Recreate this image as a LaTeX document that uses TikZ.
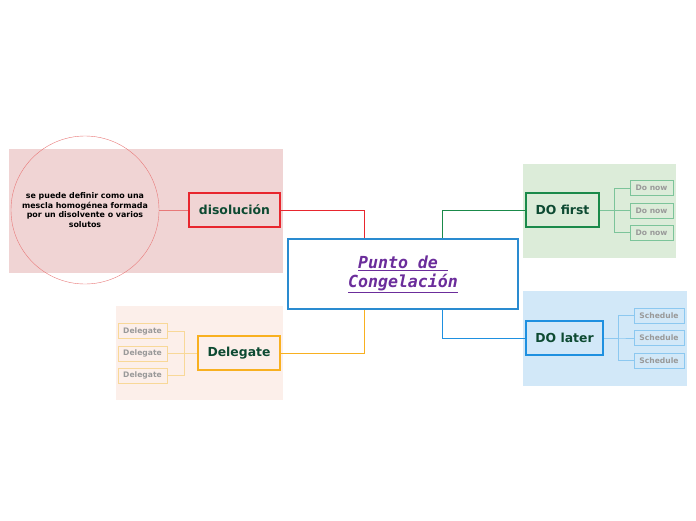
\documentclass[tikz,border=0pt]{standalone}
\usepackage{fontspec}
\setmainfont{DejaVu Sans}
\newfontfamily\titlefont{DejaVu Sans Mono}
\definecolor{mainblue}{HTML}{2A8BD0}
\definecolor{titlepurple}{HTML}{6B2D9B}
\definecolor{darkgreen}{HTML}{0D4A32}
\definecolor{redline}{HTML}{E8262E}
\definecolor{redsoft}{HTML}{E87878}
\definecolor{redbg}{HTML}{F0D4D4}
\definecolor{greenline}{HTML}{1A8A4A}
\definecolor{greensoft}{HTML}{7CC49A}
\definecolor{greenbg}{HTML}{DCECD9}
\definecolor{blueline}{HTML}{1E90E0}
\definecolor{bluesoft}{HTML}{8CC8F0}
\definecolor{bluebg}{HTML}{D2E8F8}
\definecolor{orangeline}{HTML}{F8B020}
\definecolor{orangesoft}{HTML}{F8D898}
\definecolor{orangebg}{HTML}{FCEFEA}
\begin{document}
\begin{tikzpicture}[x=1pt, y=-1pt,
  topic/.style={draw, line width=2pt, minimum height=34pt, inner sep=0pt,
    font=\fontsize{12.4}{14}\selectfont\bfseries, text=darkgreen},
  leaf/.style={draw, line width=0.8pt, minimum height=15pt, inner sep=0pt,
    font=\fontsize{7.6}{9}\selectfont\bfseries, text=black!40},
  link/.style={line width=1pt}
]
\useasboundingbox (0,0) rectangle (696,520);
% background regions
\fill[redbg] (9,149) rectangle (283,273);
\fill[greenbg] (523,164) rectangle (676,258);
\fill[bluebg] (523,291) rectangle (687,386);
\fill[orangebg] (116,306) rectangle (283,400);
% central topic
\node[draw=mainblue, line width=1.8pt, fill=white, minimum width=230pt,
  minimum height=70pt, align=center, text=titlepurple,
  font=\titlefont\fontsize{16.6}{19}\selectfont\bfseries\itshape]
  (main) at (403,274) {\underline{Punto de }\\\underline{Congelación}};
% main topics
\node[topic, draw=redline, minimum width=91pt] (diso) at (234.5,210) {disolución};
\node[topic, draw=greenline, minimum width=73pt] (first) at (562.5,210) {DO first};
\node[topic, draw=blueline, minimum width=77pt] (later) at (564.5,338) {DO later};
\node[topic, draw=orangeline, minimum width=82pt] (dele) at (239,353) {Delegate};
\node[circle, draw=redsoft, minimum size=148pt, inner sep=0pt, align=center,
  font=\fontsize{7.9}{9.7}\selectfont\bfseries] (def) at (85,210)
  {se puede definir como una\\mescla homogénea formada\\por un disolvente o varios\\solutos};
% leaves
\node[leaf, draw=greensoft, minimum width=43pt] (now1) at (651.5,188) {Do now};
\node[leaf, draw=greensoft, minimum width=43pt] (now2) at (651.5,210.5) {Do now};
\node[leaf, draw=greensoft, minimum width=43pt] (now3) at (651.5,232.5) {Do now};
\node[leaf, draw=bluesoft, minimum width=50pt] (sch1) at (659,315.5) {Schedule};
\node[leaf, draw=bluesoft, minimum width=50pt] (sch2) at (659,338) {Schedule};
\node[leaf, draw=bluesoft, minimum width=50pt] (sch3) at (659,360.5) {Schedule};
\node[leaf, draw=orangesoft, minimum width=49pt] (del1) at (142.5,331) {Delegate};
\node[leaf, draw=orangesoft, minimum width=49pt] (del2) at (142.5,353.5) {Delegate};
\node[leaf, draw=orangesoft, minimum width=49pt] (del3) at (142.5,375.5) {Delegate};
% connectors
\draw[link, redline] (diso.east) -| ([xshift=-39pt]main.north);
\draw[link, greenline] (first.west) -| ([xshift=39pt]main.north);
\draw[link, blueline] (later.west) -| ([xshift=39pt]main.south);
\draw[link, orangeline] (dele.east) -| ([xshift=-39pt]main.south);
\draw[redsoft] (def.east) -- (diso.west);
\foreach \n in {now1,now2,now3}
  \draw[greensoft] (first.east) -- ++(14,0) |- (\n.west);
\foreach \n in {sch1,sch2,sch3}
  \draw[bluesoft] (later.east) -- ++(14,0) |- (\n.west);
\foreach \n in {del1,del2,del3}
  \draw[orangesoft] (dele.west) -- ++(-13,0) |- (\n.east);
\end{tikzpicture}
\end{document}
